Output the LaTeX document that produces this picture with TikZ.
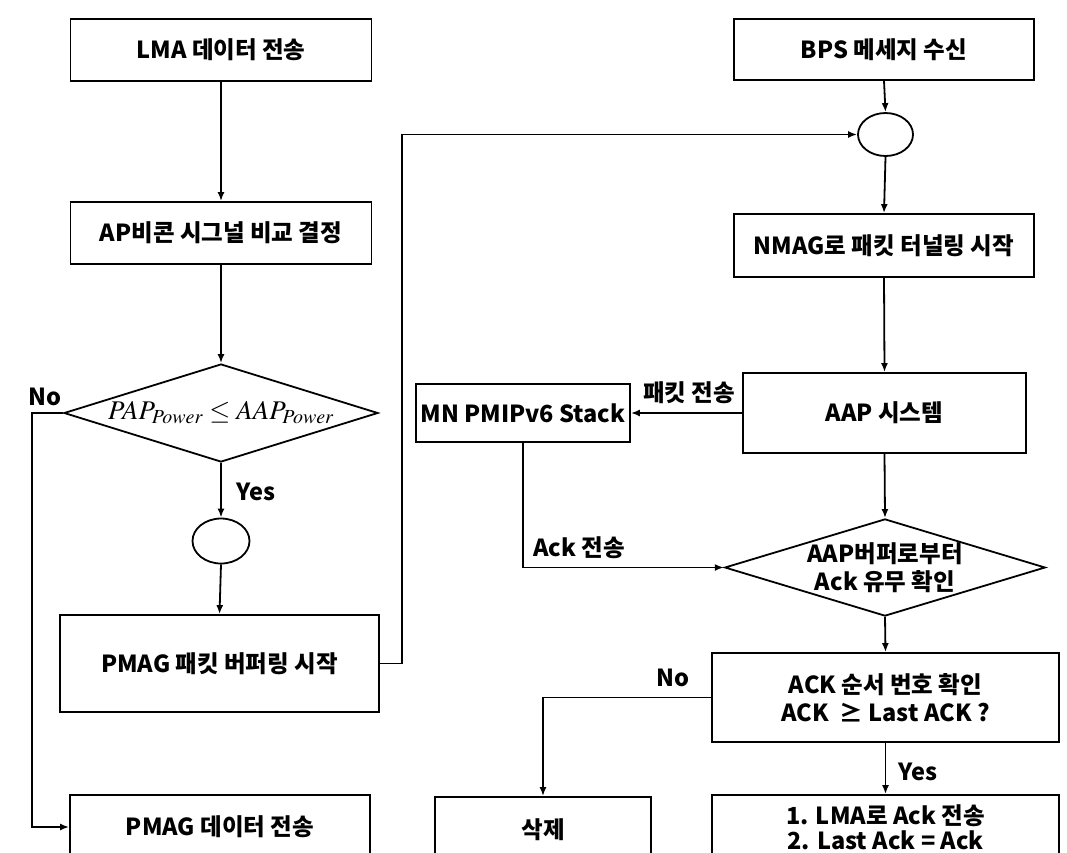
\documentclass[tikz,border=0pt]{standalone}
\usepackage{mathptmx}
\usepackage{fontspec}
\setmainfont{Noto Sans CJK KR}
\usetikzlibrary{arrows.meta,shapes.geometric}
\tikzset{>={Latex[length=9pt,width=7pt]},
  every node/.style={font=\fontsize{23.5}{28}\selectfont\bfseries},
  stepbox/.style={draw,rectangle,inner sep=2pt,align=center},
  joint/.style={draw,ellipse,inner sep=0pt},
  decide/.style={draw,diamond,inner sep=0pt,align=center},
  flow/.style={->},
  tag/.style={inner sep=1pt}}

\begin{document}
\begin{tikzpicture}[x=1pt,y=-1pt,line width=1.8pt]
\useasboundingbox (0,0) rectangle (1067,852);
\clip (0,0) rectangle (1067,852);
% left column
\node[stepbox,minimum width=301pt,minimum height=62pt] (lma) at (221,50) {LMA 데이터 전송};
\node[stepbox,minimum width=301pt,minimum height=62pt] (apsig) at (221,233) {AP비콘 시그널 비교 결정};
\node[decide,aspect=3.2,minimum width=314pt,minimum height=98pt] (cmp) at (221,413) {\fontsize{27}{30}\selectfont$PAP_{Power}\le AAP_{Power}$};
\node[joint,minimum width=57pt,minimum height=45pt] (jnL) at (221,541) {};
\node[stepbox,minimum width=319pt,minimum height=97pt] (pbuf) at (219.5,663.5) {PMAG 패킷 버퍼링 시작};
\node[stepbox,minimum width=300pt,minimum height=64pt] (pdata) at (220,827) {PMAG 데이터 전송};
% right column
\node[stepbox,minimum width=300pt,minimum height=61pt] (bps) at (884,49.5) {BPS 메세지 수신};
\node[joint,minimum width=55pt,minimum height=43pt] (jnR) at (885.5,134.5) {};
\node[stepbox,minimum width=300pt,minimum height=63pt] (nmag) at (884,245.5) {NMAG로 패킷 터널링 시작};
\node[stepbox,minimum width=283pt,minimum height=80pt] (aap) at (884.5,413) {AAP 시스템};
\node[stepbox,minimum width=214pt,minimum height=58pt] (mn) at (523,413) {MN PMIPv6 Stack};
\node[decide,aspect=3.3,minimum width=316pt,minimum height=95pt] (ackq) at (885,567.5) {AAP버퍼로부터\\Ack 유무 확인};
\node[stepbox,minimum width=347pt,minimum height=89pt] (ackchk) at (885.5,697.5) {ACK 순서 번호 확인\\ACK\ \ ≥ Last ACK ?};
\node[stepbox,minimum width=216pt,minimum height=66pt] (del) at (543,830) {삭제};
\node[stepbox,minimum width=347pt,minimum height=64pt,font=\fontsize{23.5}{25}\selectfont\bfseries] (last) at (885.5,827) {1. LMA로 Ack 전송\\2. Last Ack = Ack};
% connectors
\foreach \a/\b in {lma/apsig,apsig/cmp,cmp/jnL,jnL/pbuf,bps/jnR,jnR/nmag,nmag/aap,aap/ackq,ackq/ackchk,ackchk/last}
  \draw[flow] (\a.south) -- (\b.north);
\draw[flow] (cmp.west) -- (32,413) |- (pdata.west);
\draw[flow] (pbuf.east) -- (402,663.5) |- (jnR.west);
\draw[flow] (aap.west) -- (mn.east);
\draw[flow] (mn.south) |- (ackq.west);
\draw[flow] (ackchk.west) -| (del.north);
% labels
\node[tag] (noL) at (45,397) {No};
\node[tag] (yesL) at (256,492) {Yes};
\node[tag] (sendpkt) at (689,393) {패킷 전송};
\node[tag] (sendack) at (579,548) {Ack 전송};
\node[tag] (noR) at (673,678) {No};
\node[tag] (yesR) at (918,772) {Yes};
\end{tikzpicture}
\end{document}
